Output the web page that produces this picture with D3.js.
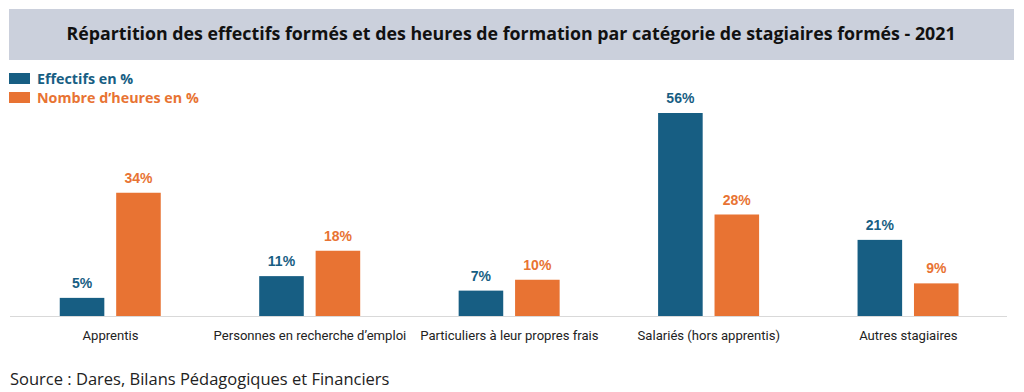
<!DOCTYPE html>
<html>
<head>
<meta charset="utf-8">
<script src="https://cdn.jsdelivr.net/npm/d3@7"></script>
<style>
    body { margin: 0; background: #ffffff; }
    svg { display: block; }
</style>
</head>
<body>
<svg id="chart"></svg>
<script>
const title = 'Répartition des effectifs formés et des heures de formation par catégorie de stagiaires formés - 2021';
const categories = ['Apprentis', 'Personnes en recherche d\u2019emploi', 'Particuliers à leur propres frais', 'Salariés (hors apprentis)', 'Autres stagiaires'];
const seriesNames = ['Effectifs en %', 'Nombre d\u2019heures en %'];
const effectifs = [5, 11, 7, 56, 21];
const heures = [34, 18, 10, 28, 9];
const source = 'Source : Dares, Bilans Pédagogiques et Financiers';

const W = 1024, H = 392;
const colors = ['#175e83', '#e87333'];
const baseline = 316;

let svg = d3.select('#chart').attr('width', W).attr('height', H);

// title band
svg.append('rect')
    .attr('x', 9).attr('y', 9)
    .attr('width', 1005).attr('height', 51)
    .attr('fill', '#cbd0dc');

svg.append('text')
    .attr('x', 511).attr('y', 40)
    .attr('text-anchor', 'middle')
    .attr('font-family', 'Open Sans')
    .attr('font-weight', 700)
    .attr('font-size', 17.8)
    .attr('fill', '#111111')
    .text(title);

// legend
let legend = svg.append('g');
seriesNames.forEach((name, i) => {
    legend.append('rect')
        .attr('x', 9).attr('y', 73 + i * 19)
        .attr('width', 21).attr('height', 11)
        .attr('fill', colors[i]);
    legend.append('text')
        .attr('x', 37).attr('y', 84 + i * 19)
        .attr('font-family', 'Open Sans')
        .attr('font-weight', 700)
        .attr('font-size', 14.3)
        .attr('fill', colors[i])
        .text(name);
});

// scales
let x0 = d3.scaleBand()
    .domain(categories)
    .range([10.75, 1008]);

let x1 = d3.scaleBand()
    .domain([0, 1])
    .range([49, 150])
    .paddingInner(0.21);

let y = d3.scaleLinear()
    .domain([0, 56])
    .range([baseline, 113]);

let rows = categories.map((c, i) => ({ cat: c, vals: [effectifs[i], heures[i]] }));

// baseline
svg.append('line')
    .attr('x1', 10).attr('x2', 1007)
    .attr('y1', baseline + 0.5).attr('y2', baseline + 0.5)
    .attr('stroke', '#d9d9d9')
    .attr('stroke-width', 1);

let groups = svg.selectAll('g.group')
    .data(rows)
    .enter()
    .append('g')
    .attr('class', 'group')
    .attr('transform', (d) => 'translate(' + x0(d.cat) + ',0)');

groups.selectAll('rect.bar')
    .data((d) => d.vals.map((v, k) => ({ v: v, k: k })))
    .enter()
    .append('rect')
    .attr('class', 'bar')
    .attr('x', (d) => x1(d.k))
    .attr('width', x1.bandwidth())
    .attr('y', (d) => y(d.v))
    .attr('height', (d) => baseline - y(d.v))
    .attr('fill', (d) => colors[d.k]);

groups.selectAll('text.value')
    .data((d) => d.vals.map((v, k) => ({ v: v, k: k })))
    .enter()
    .append('text')
    .attr('class', 'value')
    .attr('x', (d) => x1(d.k) + x1.bandwidth() / 2)
    .attr('y', (d) => y(d.v) - 10)
    .attr('text-anchor', 'middle')
    .attr('font-family', 'Liberation Sans')
    .attr('font-weight', 700)
    .attr('font-size', 14)
    .attr('fill', (d) => colors[d.k])
    .text((d) => d.v + '%');

// category axis labels
svg.append('g')
    .attr('transform', 'translate(0,' + baseline + ')')
    .call(d3.axisBottom(x0).tickSize(0).tickPadding(0))
    .call((g) => g.select('.domain').remove())
    .selectAll('text')
    .attr('dy', 0)
    .attr('y', 24)
    .attr('font-family', 'Roboto')
    .attr('font-size', 13.1)
    .attr('fill', '#222222');

// source
svg.append('text')
    .attr('x', 10).attr('y', 385)
    .attr('font-family', 'Open Sans')
    .attr('font-size', 16.5)
    .attr('fill', '#222222')
    .text(source);
</script>
</body>
</html>
